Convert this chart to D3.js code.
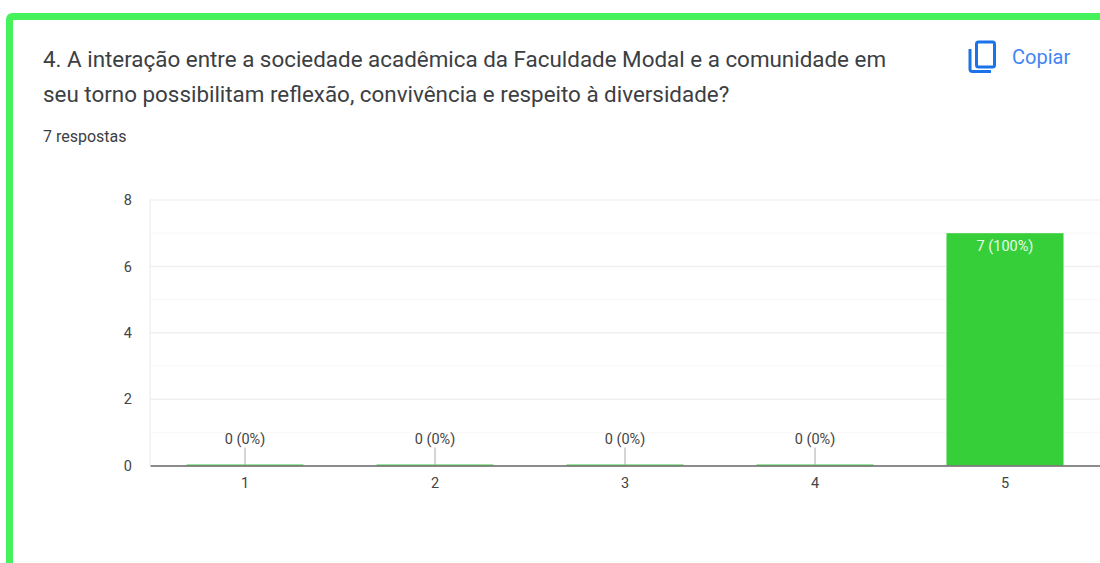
<!DOCTYPE html>
<html>
<head>
<meta charset="utf-8">
<script src="https://cdn.jsdelivr.net/npm/d3@7"></script>
<style>
    html, body { margin: 0; padding: 0; background: #fff; overflow: hidden; }
    text { font-family: Roboto, Arial, sans-serif; }
</style>
</head>
<body>
<div id="chart"></div>
<script>
// values
var categories = ["1", "2", "3", "4", "5"];
var counts = [0, 0, 0, 0, 7];
var percents = ["0%", "0%", "0%", "0%", "100%"];
var yTicks = [0, 2, 4, 6, 8];
var yMinorTicks = [1, 3, 5, 7];
var titleLines = [
    "4. A interação entre a sociedade acadêmica da Faculdade Modal e a comunidade em",
    "seu torno possibilitam reflexão, convivência e respeito à diversidade?"
];
var answersLabel = "7 respostas";
var copyLabel = "Copiar";

var width = 1100, height = 563;
var margin = {top: 200, right: 0, bottom: 97.5, left: 150};
var plotW = width - margin.left - margin.right;
var plotH = height - margin.top - margin.bottom;

var svg = d3.select("#chart").append("svg")
    .attr("width", width)
    .attr("height", height)
    .style("display", "block");

// card border
svg.append("path")
    .attr("d", "M9.5,563 V20 Q9.5,16.5 13,16.5 H1100")
    .attr("fill", "none")
    .attr("stroke", "#45f25c")
    .attr("stroke-width", 7);
svg.append("line")
    .attr("x1", 13).attr("x2", 1100)
    .attr("y1", 561.5).attr("y2", 561.5)
    .attr("stroke", "#f3fbf5");

// heading
svg.append("g").selectAll("text")
    .data(titleLines)
    .enter().append("text")
    .attr("x", 43)
    .attr("y", function(d, i) { return 67 + i * 35; })
    .attr("font-size", 22.4)
    .attr("fill", "#3c4043")
    .text(function(d) { return d; });

svg.append("text")
    .attr("x", 43)
    .attr("y", 142)
    .attr("font-size", 16)
    .attr("fill", "#3c4043")
    .text(answersLabel);

// copy icon
var icon = svg.append("g")
    .attr("fill", "none")
    .attr("stroke", "#1a73e8")
    .attr("stroke-width", 3);
icon.append("rect")
    .attr("x", 976.5).attr("y", 42)
    .attr("width", 18).attr("height", 25)
    .attr("rx", 2);
icon.append("path")
    .attr("d", "M970,49 V69 Q970,71.5 972.5,71.5 H991");

svg.append("text")
    .attr("x", 1012)
    .attr("y", 64)
    .attr("font-size", 20)
    .attr("fill", "#4285f4")
    .text(copyLabel);

var g = svg.append("g")
    .attr("transform", "translate(" + margin.left + "," + margin.top + ")");

var x = d3.scaleBand()
    .domain(categories)
    .range([0, plotW])
    .paddingInner(0.384)
    .paddingOuter(0.192);

var y = d3.scaleLinear()
    .domain([0, 8])
    .range([plotH, 0]);

// gridlines
g.append("g").selectAll("line")
    .data(yMinorTicks)
    .enter().append("line")
    .attr("x1", 0).attr("x2", plotW)
    .attr("y1", function(d) { return y(d); })
    .attr("y2", function(d) { return y(d); })
    .attr("stroke", "#f8f8f8");

g.append("g").selectAll("line")
    .data(yTicks.slice(1))
    .enter().append("line")
    .attr("x1", 0).attr("x2", plotW)
    .attr("y1", function(d) { return y(d); })
    .attr("y2", function(d) { return y(d); })
    .attr("stroke", "#f0f0f0")
    .attr("stroke-width", 1.5);

g.append("line")
    .attr("x1", 0).attr("x2", 0)
    .attr("y1", 0).attr("y2", plotH)
    .attr("stroke", "#f0f0f0")
    .attr("stroke-width", 1.5);

// y axis labels
var yAxis = g.append("g")
    .call(d3.axisLeft(y).tickValues(yTicks).tickSize(0).tickPadding(18));
yAxis.select(".domain").remove();
yAxis.selectAll("text")
    .attr("font-size", 14.5)
    .attr("fill", "#444");

// bars
g.append("g").selectAll("rect")
    .data(categories)
    .enter().append("rect")
    .attr("x", function(d) { return x(d); })
    .attr("y", function(d, i) { return y(counts[i]) - (counts[i] === 0 ? 1 : 0); })
    .attr("width", x.bandwidth())
    .attr("height", function(d, i) { return y(0) - y(counts[i]) + (counts[i] === 0 ? 1 : 0); })
    .attr("fill", "#36cf3a");

// leader lines for empty bars
var emptyCats = categories.filter(function(d, i) { return counts[i] === 0; });
g.append("g").selectAll("line")
    .data(emptyCats)
    .enter().append("line")
    .attr("x1", function(d) { return x(d) + x.bandwidth() / 2; })
    .attr("x2", function(d) { return x(d) + x.bandwidth() / 2; })
    .attr("y1", y(0) - 18)
    .attr("y2", y(0))
    .attr("stroke", "#aaa");

// bar labels
g.append("g").selectAll("text")
    .data(categories)
    .enter().append("text")
    .attr("x", function(d) { return x(d) + x.bandwidth() / 2; })
    .attr("y", function(d, i) { return counts[i] === 0 ? y(0) - 22 : y(counts[i]) + 18; })
    .attr("text-anchor", "middle")
    .attr("font-size", 14.5)
    .attr("fill", function(d, i) { return counts[i] === 0 ? "#444" : "#e8fbe8"; })
    .text(function(d, i) { return counts[i] + " (" + percents[i] + ")"; });

// x axis
var xAxis = g.append("g")
    .attr("transform", "translate(0," + plotH + ")")
    .call(d3.axisBottom(x).tickSize(0).tickPadding(12));
xAxis.select(".domain")
    .attr("stroke", "#666")
    .attr("stroke-width", 1.5);
xAxis.selectAll("text")
    .attr("font-size", 14.5)
    .attr("fill", "#444");
</script>
</body>
</html>
